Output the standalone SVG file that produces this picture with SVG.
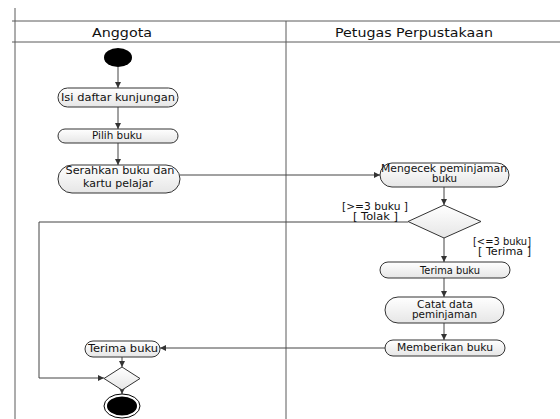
<svg xmlns="http://www.w3.org/2000/svg" width="560" height="419" viewBox="0 0 560 419">
<style>
.lane{stroke:#5a5a5a;stroke-width:1;fill:none}
.node{fill:url(#g);stroke:#333;stroke-width:1}
.dec{fill:url(#g);stroke:#333;stroke-width:1}
.t{font-family:"DejaVu Sans",Verdana,sans-serif;font-size:10px;fill:#111;text-anchor:middle}
.h{font-family:"DejaVu Sans",Verdana,sans-serif;font-size:12px;fill:#111;text-anchor:middle}
.c{stroke:#444;stroke-width:1;fill:none;marker-end:url(#a)}
</style>
<defs>
<linearGradient id="g" x1="0" y1="0" x2="0" y2="1">
<stop offset="0" stop-color="#ffffff"/>
<stop offset="1" stop-color="#e6e6e6"/>
</linearGradient>
<marker id="a" markerWidth="6" markerHeight="6" refX="6" refY="3" orient="auto" markerUnits="userSpaceOnUse">
<path d="M0,0 L6,3 L0,6 z" fill="#333"/>
</marker>
</defs>
<rect width="560" height="419" fill="#fff"/>
<g id="swimlanes">
<path class="lane" d="M15,8 V419 M12,21 H560 M12,42 H560 M286,21 V419"/>
<text class="h" x="122" y="37" textLength="60" lengthAdjust="spacingAndGlyphs">Anggota</text>
<text class="h" x="414" y="37" textLength="158" lengthAdjust="spacingAndGlyphs">Petugas Perpustakaan</text>
</g>
<g id="connectors">
<path class="c" d="M118,67 V88"/>
<path class="c" d="M118,107 V129"/>
<path class="c" d="M118,143 V165"/>
<path class="c" d="M180,175 H380"/>
<path class="c" d="M444,187 V205"/>
<path class="c" d="M444,238 V262"/>
<path class="c" d="M444,278 V297"/>
<path class="c" d="M444,323 V340"/>
<path class="c" d="M385,348 H160"/>
<path class="c" d="M122,357 V367"/>
<path class="c" d="M408,222 H39 V378 H104"/>
<path class="c" d="M122,390 V394"/>
<text class="t" x="375" y="210" textLength="66" lengthAdjust="spacingAndGlyphs">[&gt;=3 buku ]</text>
<text class="t" x="375.5" y="220" textLength="45" lengthAdjust="spacingAndGlyphs">[ Tolak ]</text>
<text class="t" x="502" y="245" textLength="58" lengthAdjust="spacingAndGlyphs">[&lt;=3 buku]</text>
<text class="t" x="504.5" y="255" textLength="53" lengthAdjust="spacingAndGlyphs">[ Terima ]</text>
</g>
<g id="start">
<ellipse cx="118" cy="57.5" rx="14" ry="9.5" fill="#000"/>
</g>
<g id="isi">
<rect class="node" x="58" y="88" width="120" height="19" rx="9.5"/>
<text class="t" x="118" y="101" textLength="114" lengthAdjust="spacingAndGlyphs">Isi daftar kunjungan</text>
</g>
<g id="pilih">
<rect class="node" x="58" y="129" width="120" height="14" rx="7"/>
<text class="t" x="117" y="139" textLength="50" lengthAdjust="spacingAndGlyphs">Pilih buku</text>
</g>
<g id="serahkan">
<rect class="node" x="58" y="165" width="122" height="28" rx="14"/>
<text class="t" x="120" y="174" textLength="109" lengthAdjust="spacingAndGlyphs">Serahkan buku dan</text>
<text class="t" x="118" y="187" textLength="70" lengthAdjust="spacingAndGlyphs">kartu pelajar</text>
</g>
<g id="mengecek">
<rect class="node" x="380" y="163" width="129" height="24" rx="12"/>
<text class="t" x="444" y="172" textLength="126" lengthAdjust="spacingAndGlyphs">Mengecek peminjaman</text>
<text class="t" x="444.5" y="182" textLength="25" lengthAdjust="spacingAndGlyphs">buku</text>
</g>
<g id="decision">
<polygon class="dec" points="444,205 481,221.5 444,238 408,221.5"/>
</g>
<g id="terima-petugas">
<rect class="node" x="380" y="262" width="130" height="16" rx="8"/>
<text class="t" x="450" y="274" textLength="60" lengthAdjust="spacingAndGlyphs">Terima buku</text>
</g>
<g id="catat">
<rect class="node" x="385" y="297" width="119" height="26" rx="13"/>
<text class="t" x="445" y="308" textLength="56" lengthAdjust="spacingAndGlyphs">Catat data</text>
<text class="t" x="444.5" y="318" textLength="65" lengthAdjust="spacingAndGlyphs">peminjaman</text>
</g>
<g id="memberikan">
<rect class="node" x="385" y="340" width="120" height="16" rx="8"/>
<text class="t" x="445" y="351" textLength="96" lengthAdjust="spacingAndGlyphs">Memberikan buku</text>
</g>
<g id="terima-anggota">
<rect class="node" x="85" y="341" width="75" height="16" rx="8"/>
<text class="t" x="123" y="352" textLength="70" lengthAdjust="spacingAndGlyphs">Terima buku</text>
</g>
<g id="merge">
<polygon class="dec" points="122,367 140,378.5 122,390 104,378.5"/>
</g>
<g id="end">
<ellipse cx="122" cy="406" rx="18" ry="12" fill="#fff" stroke="#000" stroke-width="1"/>
<ellipse cx="122" cy="406" rx="15" ry="9.5" fill="#000"/>
</g>
</svg>
